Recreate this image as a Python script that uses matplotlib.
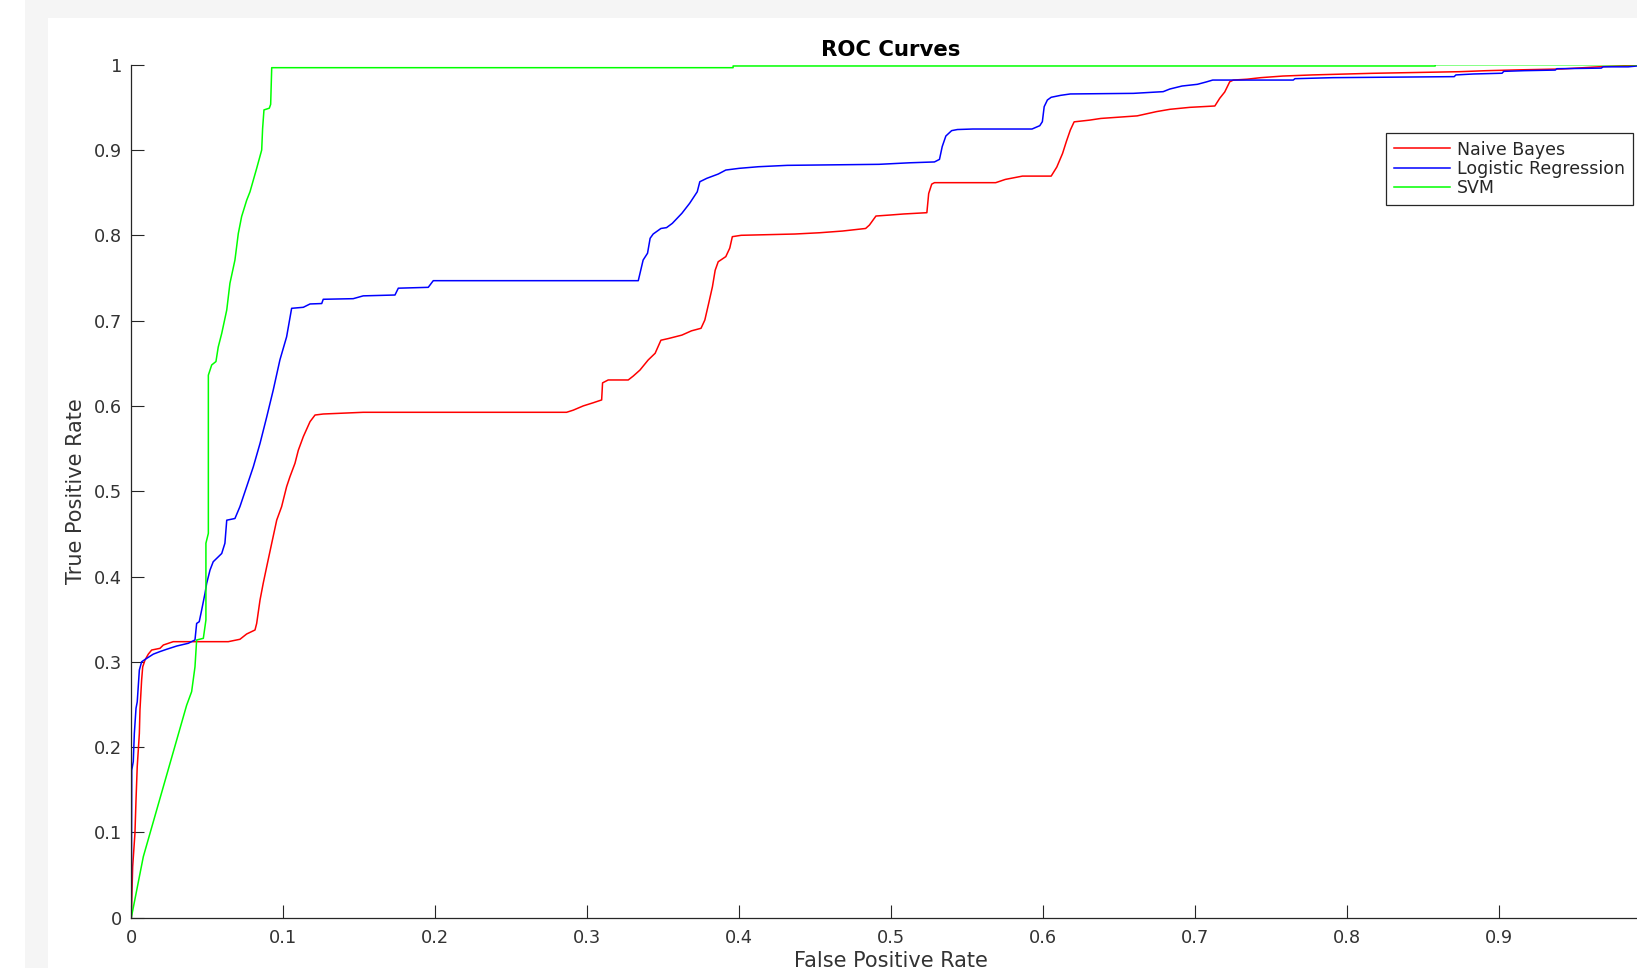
import matplotlib
matplotlib.use("Agg")
import matplotlib.pyplot as plt
from matplotlib.patches import Rectangle
from matplotlib.ticker import FuncFormatter

# ---------------- data ----------------
title_text = "ROC Curves"
xlabel_text = "False Positive Rate"
ylabel_text = "True Positive Rate"
series_names = ["Naive Bayes", "Logistic Regression", "SVM"]
series_colors = ["#ff0000", "#0000ff", "#00ff00"]

nb_points = [
    (0, 0), (0.0003, 0.0207), (0.0009, 0.0598), (0.0024, 0.099), (0.0031, 0.138),
    (0.0039, 0.177), (0.0053, 0.216), (0.0057, 0.2435), (0.0068, 0.2787), (0.0075, 0.294),
    (0.009, 0.302), (0.0112, 0.309), (0.0134, 0.3138), (0.0189, 0.3158), (0.0211, 0.3197),
    (0.0276, 0.3236), (0.0638, 0.3236), (0.0715, 0.3264), (0.0759, 0.3326), (0.0814, 0.3373),
    (0.0825, 0.345), (0.0847, 0.3724), (0.0868, 0.392), (0.0891, 0.4115), (0.0924, 0.439),
    (0.0957, 0.4662), (0.0989, 0.4818), (0.1022, 0.5053), (0.1044, 0.517), (0.1077, 0.5327),
    (0.1099, 0.548), (0.1132, 0.564), (0.1176, 0.5815), (0.1209, 0.5893), (0.1263, 0.5905),
    (0.1526, 0.5925), (0.2864, 0.5925), (0.2908, 0.595), (0.2974, 0.600), (0.304, 0.6037),
    (0.3095, 0.607), (0.3101, 0.627), (0.3138, 0.6304), (0.327, 0.6304), (0.3303, 0.635),
    (0.3347, 0.642), (0.3401, 0.6538), (0.3447, 0.6617), (0.3485, 0.677), (0.3535, 0.679),
    (0.3623, 0.683), (0.3686, 0.688), (0.3749, 0.691), (0.3774, 0.7007), (0.3799, 0.720),
    (0.3824, 0.7397), (0.3842, 0.759), (0.3862, 0.769), (0.3912, 0.775), (0.3938, 0.785),
    (0.3955, 0.7984), (0.4013, 0.800), (0.4366, 0.8015), (0.453, 0.803), (0.468, 0.805),
    (0.4832, 0.808), (0.4857, 0.812), (0.49, 0.8226), (0.4995, 0.8238), (0.5083, 0.825),
    (0.5235, 0.8265), (0.5247, 0.849), (0.5267, 0.860), (0.5285, 0.8617), (0.5688, 0.8617),
    (0.5751, 0.8655), (0.5864, 0.8694), (0.6053, 0.8694), (0.609, 0.880), (0.6128, 0.896),
    (0.6153, 0.910), (0.6179, 0.9234), (0.6204, 0.933), (0.6305, 0.935), (0.638, 0.937),
    (0.6619, 0.940), (0.6746, 0.945), (0.6834, 0.9477), (0.6965, 0.950), (0.713, 0.9516),
    (0.7162, 0.9606), (0.7195, 0.968), (0.7228, 0.980), (0.7252, 0.982), (0.7342, 0.983),
    (0.7432, 0.9848), (0.7578, 0.9867), (0.777, 0.988), (0.8164, 0.9899), (0.8739, 0.9918),
    (0.8919, 0.993), (0.9144, 0.994), (0.9414, 0.995), (0.9673, 0.9977), (1.0, 1.0),
]

lr_points = [
    (0, 0), (0.0003, 0.173), (0.0013, 0.183), (0.002, 0.216), (0.0031, 0.2455),
    (0.0039, 0.253), (0.0053, 0.2904), (0.0068, 0.300), (0.0101, 0.304), (0.0145, 0.309),
    (0.0189, 0.312), (0.0233, 0.3147), (0.0299, 0.3185), (0.0375, 0.3217), (0.0419, 0.3256),
    (0.043, 0.345), (0.0447, 0.347), (0.0463, 0.3607), (0.0485, 0.3803), (0.0496, 0.392),
    (0.0518, 0.4076), (0.0539, 0.4173), (0.0572, 0.423), (0.0595, 0.427), (0.0616, 0.439),
    (0.0628, 0.466), (0.0682, 0.468), (0.0715, 0.482), (0.0759, 0.5053), (0.0803, 0.5287),
    (0.0847, 0.556), (0.0891, 0.587), (0.0934, 0.6186), (0.0978, 0.654), (0.1022, 0.681),
    (0.1055, 0.7144), (0.1132, 0.7156), (0.1176, 0.7195), (0.1253, 0.720), (0.1263, 0.725),
    (0.146, 0.7257), (0.1526, 0.729), (0.1735, 0.730), (0.1757, 0.738), (0.1954, 0.739),
    (0.1987, 0.7468), (0.3336, 0.7468), (0.3368, 0.771), (0.3397, 0.779), (0.3414, 0.7965),
    (0.3434, 0.8015), (0.3485, 0.808), (0.3522, 0.809), (0.356, 0.814), (0.3623, 0.8258),
    (0.3674, 0.8375), (0.3724, 0.851), (0.3741, 0.8628), (0.3787, 0.8668), (0.3862, 0.8718),
    (0.3912, 0.8765), (0.40, 0.8785), (0.4127, 0.8804), (0.4316, 0.882), (0.492, 0.8832),
    (0.5121, 0.885), (0.5285, 0.886), (0.5318, 0.889), (0.5336, 0.904), (0.536, 0.9164),
    (0.5398, 0.9227), (0.5436, 0.924), (0.5537, 0.9246), (0.5927, 0.9246), (0.5978, 0.9285),
    (0.5995, 0.9332), (0.6007, 0.9508), (0.6028, 0.9586), (0.6053, 0.9618), (0.6116, 0.9641),
    (0.6179, 0.9657), (0.6594, 0.9664), (0.679, 0.9684), (0.6834, 0.9715), (0.6914, 0.975),
    (0.7015, 0.977), (0.7072, 0.9797), (0.7116, 0.982), (0.7646, 0.982), (0.7657, 0.9836),
    (0.7905, 0.9848), (0.8705, 0.986), (0.8716, 0.988), (0.8829, 0.9891), (0.902, 0.990),
    (0.9031, 0.9922), (0.9167, 0.993), (0.937, 0.9937), (0.9381, 0.9953), (0.9673, 0.996),
    (0.9685, 0.9975), (0.985, 0.9975), (1.0, 1.0),
]

svm_points = [
    (0, 0), (0.0079, 0.0715), (0.0364, 0.249), (0.0397, 0.265), (0.0419, 0.294),
    (0.043, 0.3256), (0.0474, 0.3275), (0.0491, 0.349), (0.0491, 0.439), (0.0507, 0.4506),
    (0.0507, 0.636), (0.0529, 0.648), (0.0557, 0.652), (0.0572, 0.669), (0.0595, 0.685),
    (0.0628, 0.7124), (0.0649, 0.7437), (0.0682, 0.771), (0.0704, 0.802), (0.0726, 0.822),
    (0.0759, 0.841), (0.0781, 0.851), (0.0825, 0.8785), (0.0858, 0.900), (0.0864, 0.925),
    (0.0873, 0.947), (0.0908, 0.949), (0.0917, 0.9535), (0.0924, 0.9965), (0.396, 0.9965),
    (0.396, 0.9985), (0.858, 0.9985), (0.858, 1.0), (1.0, 1.0),
]

x_ticks = [0, 0.1, 0.2, 0.3, 0.4, 0.5, 0.6, 0.7, 0.8, 0.9]
y_ticks = [0, 0.1, 0.2, 0.3, 0.4, 0.5, 0.6, 0.7, 0.8, 0.9, 1.0]

# ---------------- figure ----------------
W, H, DPI = 1637, 968, 100
fig = plt.figure(figsize=(W / DPI, H / DPI), dpi=DPI, facecolor="white")

gray = "#f5f5f5"
fig.patches.append(Rectangle((25 / W, 0), 23 / W, 1, transform=fig.transFigure,
                             facecolor=gray, edgecolor="none", zorder=-10))
fig.patches.append(Rectangle((25 / W, 1 - 18 / H), 1 - 25 / W, 18 / H, transform=fig.transFigure,
                             facecolor=gray, edgecolor="none", zorder=-10))

ax_left, ax_right, ax_bottom, ax_top = 131.3, 1651.0, 917.7, 64.7
ax = fig.add_axes([ax_left / W, 1 - ax_bottom / H,
                   (ax_right - ax_left) / W, (ax_bottom - ax_top) / H])
ax.set_facecolor("white")

axis_color = "#262626"
for (pts, name, col) in zip([nb_points, lr_points, svm_points], series_names, series_colors):
    fx, ty = zip(*pts)
    ax.plot(fx, ty, color=col, linewidth=1.1, label=name)

ax.set_xlim(0, 1)
ax.set_ylim(0, 1)
ax.set_xticks(x_ticks)
ax.set_yticks(y_ticks)
fmt = FuncFormatter(lambda v, p: "%g" % round(v, 2))
ax.xaxis.set_major_formatter(fmt)
ax.yaxis.set_major_formatter(fmt)

for s in ["top", "right"]:
    ax.spines[s].set_visible(False)
for s in ["left", "bottom"]:
    ax.spines[s].set_color(axis_color)
    ax.spines[s].set_linewidth(0.9)

ax.tick_params(axis="both", direction="in", length=9.7, width=0.8, color=axis_color,
               labelcolor="#333333", labelsize=12.8)
ax.tick_params(axis="y", pad=6.5)
ax.tick_params(axis="x", pad=8)

ax.set_title(title_text, fontsize=15.3, fontweight="bold", color="black", pad=6.5)
ax.set_xlabel(xlabel_text, fontsize=15, color="#333333")
ax.set_ylabel(ylabel_text, fontsize=15, color="#333333")
ax.xaxis.set_label_coords(0.5, -0.0393)
ax.yaxis.set_label_coords(-0.0298, 0.5)

leg = ax.legend(loc="upper right", bbox_to_anchor=(1632.5 / W, 1 - 132.7 / H),
                bbox_transform=fig.transFigure, fontsize=12.5, frameon=True, fancybox=False,
                shadow=False, handlelength=3.2, handletextpad=0.4, borderpad=0.45,
                labelspacing=0.08, borderaxespad=0)
frame = leg.get_frame()
frame.set_edgecolor(axis_color)
frame.set_linewidth(0.9)
frame.set_facecolor("white")
frame.set_alpha(1)
for t in leg.get_texts():
    t.set_color(axis_color)

fig.savefig("out.png", dpi=DPI, facecolor=fig.get_facecolor())
